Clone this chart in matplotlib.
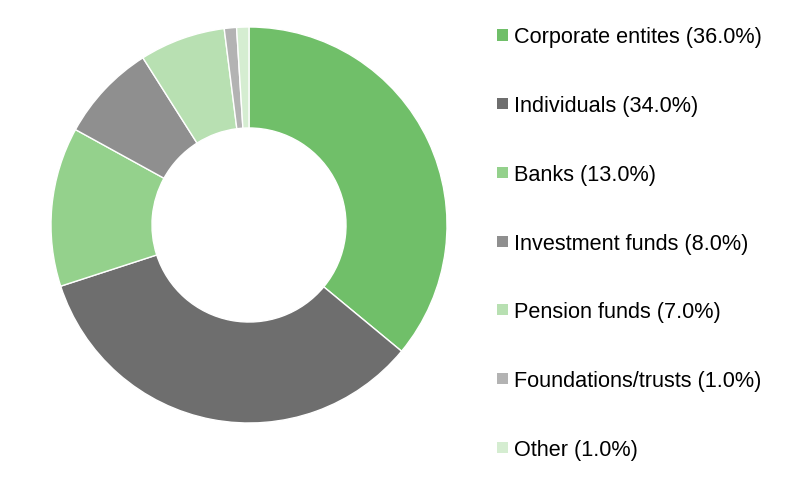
import matplotlib
matplotlib.use("Agg")
import matplotlib.pyplot as plt
from matplotlib.patches import Rectangle

categories = ["Corporate entites", "Individuals", "Banks", "Investment funds",
              "Pension funds", "Foundations/trusts", "Other"]
values = [36.0, 34.0, 13.0, 8.0, 7.0, 1.0, 1.0]
colors = ["#70BF69", "#6E6E6E", "#94D18C", "#8F8F8F", "#B8E0B2", "#B3B3B3", "#D5EDD1"]

plt.rcParams['font.family'] = ['Liberation Sans', 'DejaVu Sans']

W, H = 800, 482
fig = plt.figure(figsize=(W / 100, H / 100), dpi=100)
cx, cy, r = 249, 225, 198
ax = fig.add_axes([(cx - r) / W, (H - cy - r) / H, 2 * r / W, 2 * r / H])
ax.pie(values, colors=colors, startangle=90, counterclock=False, radius=1,
       wedgeprops=dict(width=0.51, edgecolor="white", linewidth=1))
ax.set_xlim(-1, 1)
ax.set_ylim(-1, 1)
ax.set_aspect("equal")
ax.axis("off")

b0, step = 43.5, 68.7
for i, (lab, val, col) in enumerate(zip(categories, values, colors)):
    yb = b0 + i * step
    yc = yb - 8.5
    fig.add_artist(Rectangle((497 / W, (H - yc - 5.5) / H), 11 / W, 11 / H,
                             transform=fig.transFigure, facecolor=col, edgecolor="none"))
    fig.text(514 / W, (H - yb) / H, f"{lab} ({val:.1f}%)", fontsize=15.6,
             va="baseline", ha="left", color="#000000")

fig.savefig("out.png", dpi=100)
